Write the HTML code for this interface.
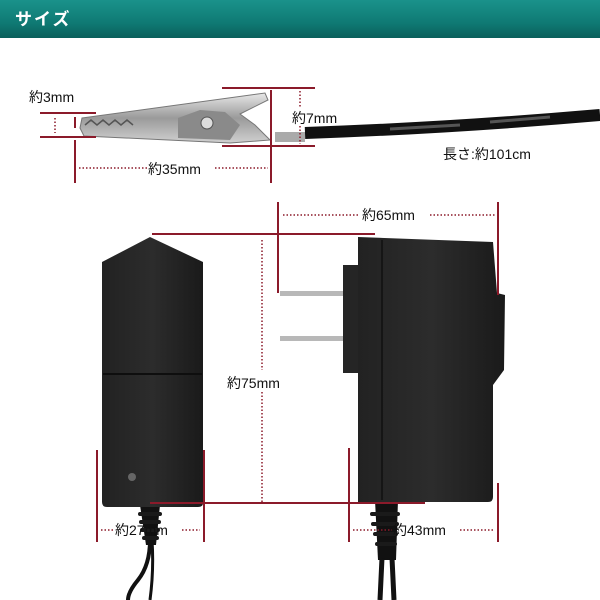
<!DOCTYPE html>
<html><head><meta charset="utf-8"><style>
html,body{margin:0;padding:0;background:#fff;}
svg{display:block;}
text{font-family:"Liberation Sans","Noto Sans CJK JP",sans-serif;font-size:14px;fill:#111;}
</style></head><body>
<svg width="600" height="600" viewBox="0 0 600 600" xmlns="http://www.w3.org/2000/svg">
<defs>
<linearGradient id="hd" x1="0" y1="0" x2="0" y2="1">
<stop offset="0" stop-color="#1a928b"/><stop offset="0.6" stop-color="#0f7a74"/><stop offset="1" stop-color="#0a5f5b"/>
</linearGradient>
<linearGradient id="sil" x1="0" y1="0" x2="0" y2="1">
<stop offset="0" stop-color="#e8e8e8"/><stop offset="0.5" stop-color="#9a9a9a"/><stop offset="1" stop-color="#d0d0d0"/>
</linearGradient>
<linearGradient id="blk" x1="0" y1="0" x2="1" y2="0">
<stop offset="0" stop-color="#222"/><stop offset="0.5" stop-color="#2c2c2c"/><stop offset="1" stop-color="#1a1a1a"/>
</linearGradient>
</defs>
<rect x="0" y="0" width="600" height="38" fill="url(#hd)"/>
<text x="15" y="25" style="font-size:17px;font-weight:bold;fill:#fff;letter-spacing:2px">サイズ</text>

<!-- cable -->
<path d="M305 133 Q450 128 600 115" stroke="#111" stroke-width="12" fill="none"/>
<path d="M390 129 L460 125 M490 122 L550 117" stroke="#555" stroke-width="3" fill="none"/>
<!-- clip -->
<polygon points="82,118 265,93 268,100 240,114 255,125 270,140 230,143 84,136 80,128" fill="url(#sil)" stroke="#777" stroke-width="1"/>
<polygon points="178,118 200,110 225,112 240,125 230,140 178,138" fill="#8a8a8a"/>
<circle cx="207" cy="123" r="6" fill="#ddd" stroke="#555"/>
<path d="M85,125 l6,-5 6,5 6,-5 6,5 6,-5 6,5 6,-5 6,5" stroke="#555" fill="none" stroke-width="1.5"/>
<rect x="275" y="132" width="30" height="10" fill="#aaa"/>

<!-- clip dims -->
<g stroke="#8b1a2a" stroke-width="2">
<line x1="40" y1="113" x2="96" y2="113"/><line x1="40" y1="137" x2="96" y2="137"/>
<line x1="75" y1="117" x2="75" y2="128"/><line x1="75" y1="140" x2="75" y2="183"/>
<line x1="271" y1="90" x2="271" y2="183"/>
<line x1="222" y1="88" x2="315" y2="88"/><line x1="222" y1="146" x2="315" y2="146"/>
</g>
<g stroke="#8b1a2a" stroke-width="1.5" stroke-dasharray="1.5,2">
<line x1="55" y1="118" x2="55" y2="133"/>
<line x1="79" y1="168" x2="147" y2="168"/><line x1="215" y1="168" x2="268" y2="168"/>
<line x1="300" y1="91" x2="300" y2="108"/><line x1="300" y1="126" x2="300" y2="144"/>
</g>
<text x="29" y="102">約3mm</text>
<text x="148" y="174">約35mm</text>
<text x="292" y="123">約7mm</text>
<text x="443" y="159">長さ:約101cm</text>

<!-- left adapter -->
<path d="M150 540 Q150 565 138 580 Q128 592 128 600" stroke="#111" stroke-width="4" fill="none"/>
<path d="M152 540 Q154 570 150 600" stroke="#111" stroke-width="3" fill="none"/>
<path d="M140 505 L160 505 L156 545 L146 545 Z" fill="#111"/>
<g fill="#1a1a1a"><rect x="138" y="512" width="24" height="4" rx="2"/><rect x="139" y="520" width="22" height="4" rx="2"/><rect x="140" y="528" width="20" height="4" rx="2"/><rect x="142" y="536" width="17" height="4" rx="2"/></g>
<path d="M102 262 L150 237 L203 262 L203 503 Q203 507 198 507 L107 507 Q102 507 102 502 Z" fill="url(#blk)"/>
<line x1="103" y1="374" x2="202" y2="374" stroke="#0e0e0e" stroke-width="2"/>
<circle cx="132" cy="477" r="4" fill="#666"/>

<!-- right adapter -->
<path d="M375 500 L398 500 L396 560 L378 560 Z" fill="#111"/>
<g fill="#1a1a1a"><rect x="370" y="512" width="30" height="4" rx="2"/><rect x="371" y="522" width="28" height="4" rx="2"/><rect x="373" y="532" width="25" height="4" rx="2"/><rect x="375" y="542" width="22" height="4" rx="2"/></g>
<path d="M382 558 L380 600 M392 558 L394 600" stroke="#111" stroke-width="5" fill="none"/>
<rect x="280" y="291" width="64" height="5" fill="#b8b8b8"/>
<rect x="280" y="336" width="64" height="5" fill="#b8b8b8"/>
<rect x="343" y="265" width="16" height="108" fill="#252525"/>
<path d="M358 237 L493 242 L497 293 L505 295 L504 370 L493 385 L493 497 Q493 502 488 502 L358 502 Z" fill="url(#blk)"/>
<line x1="382" y1="240" x2="382" y2="500" stroke="#151515" stroke-width="2"/>

<!-- adapter dims -->
<g stroke="#8b1a2a" stroke-width="2">
<line x1="152" y1="234" x2="375" y2="234"/>
<line x1="278" y1="202" x2="278" y2="293"/>
<line x1="498" y1="202" x2="498" y2="295"/>
<line x1="498" y1="483" x2="498" y2="542"/>
<line x1="150" y1="503" x2="425" y2="503"/>
<line x1="97" y1="450" x2="97" y2="542"/><line x1="204" y1="450" x2="204" y2="542"/>
<line x1="349" y1="448" x2="349" y2="542"/>
</g>
<g stroke="#8b1a2a" stroke-width="1.5" stroke-dasharray="1.5,2">
<line x1="283" y1="215" x2="358" y2="215"/><line x1="430" y1="215" x2="495" y2="215"/>
<line x1="262" y1="240" x2="262" y2="370"/><line x1="262" y1="392" x2="262" y2="502"/>
<line x1="101" y1="530" x2="114" y2="530"/><line x1="182" y1="530" x2="200" y2="530"/>
<line x1="353" y1="530" x2="392" y2="530"/><line x1="460" y1="530" x2="495" y2="530"/>
</g>
<text x="362" y="220">約65mm</text>
<text x="227" y="388">約75mm</text>
<text x="115" y="535">約27mm</text>
<text x="393" y="535">約43mm</text>
</svg>
</body></html>
